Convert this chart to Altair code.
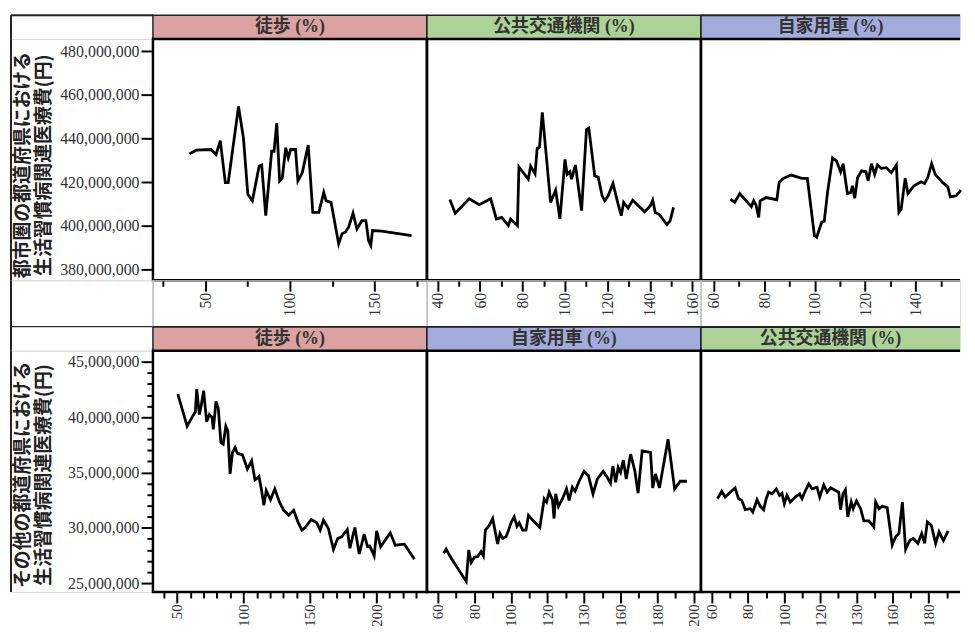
import altair as alt
import pandas as pd

# ---------------- data (x: share %, y: cost in million yen) ----------------
walk_m_x = [40.6, 44.5, 53.3, 56.3, 58.8, 61.8, 63.5, 69.6, 72.5, 75.1, 77.8, 81.8, 83.3, 85.7, 89.2,
            90.6, 92.2, 93.9, 95.5, 97.5, 99.0, 100.4, 103.3, 104.7, 107.3, 110.8, 113.5, 117.1, 120.0,
            121.4, 124.3, 128.8, 130.8, 132.7, 134.7, 137.3, 139.6, 142.5, 144.9, 146.5, 147.8, 148.8,
            154.3, 171.9]
walk_m_y = [433.0, 434.7, 435.0, 432.7, 439.1, 419.8, 419.8, 454.7, 440.3, 414.5, 411.5, 427.4, 427.9,
            404.7, 434.2, 434.2, 447.1, 420.6, 422.1, 435.8, 431.2, 435.0, 435.0, 420.6, 424.4, 437.0,
            406.2, 406.2, 415.3, 411.5, 410.8, 391.8, 396.4, 397.1, 399.4, 405.8, 398.6, 402.4, 402.4,
            393.3, 391.1, 397.9, 397.6, 395.6]

transit_m_x = [45.8, 48.3, 54.9, 59.6, 65.0, 67.7, 70.2, 73.3, 74.4, 77.6, 78.3, 82.7, 83.8, 85.9, 86.9,
               88.0, 89.3, 93.2, 95.6, 97.6, 100.0, 101.0, 102.3, 103.1, 104.9, 107.8, 110.1, 111.2,
               114.0, 115.6, 117.5, 118.7, 120.3, 122.6, 125.0, 126.5, 127.6, 129.7, 131.9, 137.5,
               140.2, 141.3, 142.5, 144.4, 148.0, 149.5, 151.1]
transit_m_y = [412.1, 405.8, 412.4, 409.7, 412.4, 403.2, 403.9, 400.2, 403.2, 400.2, 427.0, 421.4, 427.4,
               423.9, 435.5, 436.1, 452.0, 410.8, 416.4, 403.2, 430.5, 423.6, 424.8, 421.4, 427.9, 407.0,
               444.1, 444.8, 422.9, 422.4, 413.8, 411.5, 413.8, 419.4, 410.0, 404.7, 410.8, 408.2, 411.8,
               406.5, 409.2, 411.8, 406.1, 405.2, 400.6, 402.4, 408.5]

car_m_x = [66.6, 68.3, 70.3, 74.9, 75.8, 76.7, 77.8, 78.4, 80.7, 85.0, 85.9, 87.6, 90.7, 94.9, 97.1,
           99.9, 100.8, 102.8, 103.8, 105.1, 107.1, 108.7, 110.3, 111.3, 113.0, 114.3, 115.0, 115.9,
           117.0, 118.6, 120.3, 121.2, 122.5, 123.8, 124.9, 126.4, 128.4, 130.4, 132.4, 133.4, 134.3,
           135.9, 137.0, 139.3, 142.2, 143.6, 144.9, 146.4, 147.8, 150.8, 152.8, 153.8, 156.1, 158.0]
car_m_y = [412.3, 410.8, 414.8, 408.8, 411.5, 409.7, 403.9, 411.5, 413.0, 412.0, 419.8, 421.8, 423.3,
           421.8, 421.8, 395.6, 394.8, 401.7, 402.1, 415.3, 431.2, 429.7, 424.7, 428.5, 414.8, 415.3,
           418.4, 412.7, 422.1, 425.2, 424.8, 420.6, 428.5, 423.6, 427.9, 426.4, 426.7, 424.4, 427.9,
           406.2, 407.7, 421.8, 414.8, 418.3, 420.2, 419.4, 422.4, 428.5, 423.6, 419.8, 417.9, 413.3,
           413.8, 416.4]

walk_o_x = [50.7, 57.7, 61.9, 63.9, 64.9, 66.9, 68.2, 70.1, 72.4, 74.4, 76.4, 77.4, 79.4, 81.1, 83.1,
            84.8, 86.8, 88.3, 90.0, 91.8, 93.8, 95.5, 99.3, 103.0, 106.2, 108.7, 111.7, 113.7, 115.4,
            117.2, 120.4, 123.6, 127.1, 130.3, 134.1, 137.8, 141.0, 144.0, 146.5, 151.0, 155.2, 157.7,
            160.2, 163.9, 167.7, 170.9, 173.9, 178.1, 180.1, 181.8, 183.8, 187.1, 190.8, 193.3, 195.0,
            198.3, 200.2, 203.2, 206.7, 210.4, 214.2, 221.1, 228.6]
walk_o_y = [42.09, 39.19, 40.09, 40.48, 42.54, 40.24, 40.99, 42.39, 39.58, 40.24, 40.00, 38.90, 41.43,
            40.83, 37.70, 37.55, 39.19, 38.75, 34.87, 36.81, 37.25, 36.72, 36.60, 35.31, 36.06, 34.33,
            34.63, 33.37, 32.03, 33.37, 32.54, 33.52, 32.33, 31.58, 31.13, 31.58, 30.54, 29.79, 30.03,
            30.75, 30.45, 29.79, 30.69, 29.94, 28.06, 29.04, 29.19, 29.85, 28.15, 29.04, 30.03, 27.64,
            29.43, 28.30, 28.36, 27.46, 29.73, 28.30, 28.90, 29.55, 28.43, 28.52, 27.16]

car_o_x = [63.1, 64.5, 67.3, 75.5, 76.9, 78.2, 80.0, 81.8, 83.6, 84.9, 86.0, 88.2, 90.0, 92.7, 94.0,
           95.5, 97.3, 98.7, 100.0, 101.8, 103.3, 104.5, 106.4, 108.2, 109.6, 112.7, 115.8, 118.2,
           119.5, 120.9, 122.7, 123.6, 124.5, 126.0, 128.2, 130.4, 131.8, 133.6, 135.1, 137.3, 140.0,
           142.4, 144.9, 147.3, 150.5, 152.7, 154.5, 155.8, 157.3, 158.7, 160.0, 161.5, 163.1, 165.5,
           167.8, 169.6, 171.8, 176.4, 177.6, 179.1, 181.3, 186.0, 189.6, 192.7, 196.4]
car_o_y = [27.70, 28.06, 27.25, 25.16, 28.00, 26.87, 27.34, 27.40, 27.85, 27.46, 29.79, 30.24, 30.84,
           28.54, 29.49, 29.04, 29.19, 29.79, 30.45, 30.99, 30.15, 30.45, 29.79, 29.79, 31.13, 30.54,
           30.03, 32.63, 32.33, 33.22, 32.54, 30.84, 33.07, 31.94, 32.63, 33.52, 32.48, 33.67, 33.31,
           34.21, 35.10, 34.72, 33.07, 34.43, 35.10, 34.57, 34.03, 35.60, 34.12, 35.46, 35.01, 36.12,
           34.42, 36.66, 35.16, 33.13, 36.96, 36.81, 33.61, 34.87, 33.61, 38.00, 33.52, 34.21, 34.21]

transit_o_x = [63.1, 65.5, 67.4, 70.2, 72.9, 74.8, 76.6, 78.5, 81.3, 82.7, 85.0, 86.8, 88.7, 90.1, 91.4,
               93.3, 95.7, 97.5, 98.8, 100.1, 101.6, 103.4, 106.2, 108.6, 109.9, 111.8, 113.6, 115.5,
               118.2, 119.7, 121.9, 123.8, 125.7, 130.2, 131.2, 132.6, 133.9, 135.2, 137.1, 138.2,
               140.0, 142.3, 144.1, 146.9, 149.6, 150.6, 152.4, 154.3, 157.0, 159.8, 161.7, 163.5,
               165.4, 167.2, 169.6, 171.5, 174.0, 176.1, 177.7, 179.2, 181.4, 183.8, 185.7, 188.1, 190.7]
transit_o_y = [32.63, 33.31, 32.78, 33.22, 33.61, 32.63, 32.48, 31.64, 31.73, 31.43, 32.54, 31.94, 31.64,
               32.63, 33.22, 33.07, 33.52, 32.93, 33.13, 32.18, 32.93, 32.33, 32.78, 33.07, 32.63, 33.37,
               33.97, 33.52, 33.67, 32.78, 33.88, 33.22, 33.61, 33.22, 31.64, 33.07, 33.43, 30.99, 32.33,
               31.73, 32.42, 31.73, 30.63, 30.63, 30.09, 32.33, 31.73, 31.94, 31.82, 28.45, 29.19, 29.49,
               32.33, 28.06, 28.90, 29.04, 28.60, 29.49, 28.60, 30.54, 30.24, 28.60, 29.64, 28.84, 29.73]

# header labels / colors
LBL_WALK, LBL_TRANSIT, LBL_CAR = "徒歩 (%)", "公共交通機関 (%)", "自家用車 (%)"
C_WALK, C_TRANSIT, C_CAR = "#dca2a2", "#acd298", "#a3abdc"
ytitle_top = ["都市圏の都道府県における", "生活習慣病関連医療費(円)"]
ytitle_bot = ["その他の都道府県における", "生活習慣病関連医療費(円)"]

# ---------------- layout constants ----------------
W0, W, W3 = 143, 276, 261
HH, H1, HS, H2 = 24, 243, 47, 243
SERIF = "Liberation Serif"
HFONT = "Liberation Serif, Noto Sans CJK JP"
TFONT = "Noto Sans CJK JP"
one = pd.DataFrame({"a": [0]})


def rule_left(color="black", sw=2.5):
    return alt.Chart(one).mark_rule(color=color, strokeWidth=sw).encode(
        x=alt.value(0), y=alt.value(0), y2=alt.value("height"))


def rule_top(color="black", sw=2.5):
    return alt.Chart(one).mark_rule(color=color, strokeWidth=sw).encode(
        x=alt.value(0), x2=alt.value("width"), y=alt.value(0))


def rule_bottom(color="black", sw=2.5):
    return alt.Chart(one).mark_rule(color=color, strokeWidth=sw).encode(
        x=alt.value(0), x2=alt.value("width"), y=alt.value("height"))


def xaxis(vals, major, relabel=False, fs=16):
    expr = f"datum.value % {major} === 0 ? datum.label : ''"
    if relabel:
        expr = f"datum.value === 140 ? '130' : ({expr})"
    return alt.Axis(values=vals, labelExpr=expr, labelAngle=270, labelFont=SERIF,
                    labelFontSize=fs, labelColor="#333", labelPadding=1, labelOverlap=False,
                    labelFlush=False, domain=False, grid=False, tickColor="black", tickWidth=2,
                    tickSize={"condition": {"test": f"datum.value % {major} === 0", "value": 11},
                              "value": 6},
                    title=None)


def yaxis(vals, major, title, ty):
    return alt.Axis(values=vals, format=",d",
                    labelExpr=f"datum.value % {major} === 0 ? datum.label : ''",
                    labelFont=SERIF, labelFontSize=16, labelColor="#333", labelPadding=2,
                    labelOverlap=False, labelFlush=False, domain=False, grid=False,
                    tickColor="black", tickWidth=2,
                    tickSize={"condition": {"test": f"datum.value % {major} === 0", "value": 12},
                              "value": 6},
                    minExtent=96, maxExtent=96, title=title, titleFont=TFONT, titleFontSize=19,
                    titleFontWeight="bold", titleColor="#222", titlePadding=4, titleLineHeight=21,
                    titleY=ty)


def panel(xs, ys, xdom, xax, ydom, w, h, yax=None, open_right=False):
    df = pd.DataFrame({"x": xs, "y": [v * 1e6 for v in ys]})
    yenc = alt.Y("y:Q", scale=alt.Scale(domain=ydom, zero=False, nice=False),
                 axis=yax if yax is not None else None)
    line = alt.Chart(df).mark_line(color="black", strokeWidth=2.8).encode(
        x=alt.X("x:Q", scale=alt.Scale(domain=xdom, zero=False, nice=False), axis=xax),
        y=yenc,
    )
    if open_right:
        return alt.layer(line, rule_left(), rule_top(), rule_bottom()).properties(
            width=w, height=h, view=alt.ViewBackground(stroke="transparent"))
    return line.properties(width=w, height=h,
                           view=alt.ViewBackground(stroke="black", strokeWidth=2.5))


def header(label, color, w, open_right=False):
    txt = alt.Chart(pd.DataFrame({"t": [label]})).mark_text(
        font=HFONT, fontSize=18, fontWeight="bold", color="#333", baseline="middle"
    ).encode(text="t:N")
    if open_right:
        return alt.layer(txt, rule_left("#222", 1.5), rule_top("#222", 2)).properties(
            width=w, height=HH, view=alt.ViewBackground(fill=color, stroke="transparent"))
    return txt.properties(
        width=w, height=HH, view=alt.ViewBackground(fill=color, stroke="#222", strokeWidth=1.5))


def lines(w, h, left=False, top=False, bottom=False, grey_left=False):
    ls = []
    if left:
        ls.append(rule_left("#222", 2))
    if grey_left:
        ls.append(rule_left("#aaa", 1))
    if top:
        ls.append(rule_top("#222", 2))
    if bottom:
        ls.append(rule_bottom("#222", 2))
    return alt.layer(*ls).properties(width=w, height=h)


ydom_top = [375.1e6, 485.6e6]
ydom_bot = [24.2e6, 46.0e6]
yv_top = list(range(380_000_000, 480_000_001, 20_000_000))
yv_bot = list(range(25_000_000, 45_000_001, 1_000_000))

cells = [
    # row 1: headers
    lines(W0, HH, left=True, top=True),
    header(LBL_WALK, C_WALK, W), header(LBL_TRANSIT, C_TRANSIT, W),
    header(LBL_CAR, C_CAR, W3, open_right=True),
    # row 2: metro panels
    lines(W0, H1, left=True),
    panel(walk_m_x, walk_m_y, [19, 181], xaxis(list(range(25, 176, 25)), 50), ydom_top, W, H1,
          yax=yaxis(yv_top, 20000000, ytitle_top, H1 / 2 + 5)),
    panel(transit_m_x, transit_m_y, [35, 164], xaxis(list(range(40, 161, 10)), 20), ydom_top, W, H1),
    panel(car_m_x, car_m_y, [54.9, 157.66], xaxis(list(range(60, 151, 10)), 20),
          ydom_top, W3, H1, open_right=True),
    # row 3: spacer (x axis area)
    lines(W0, HS, left=True, bottom=True),
    lines(W, HS, grey_left=True, bottom=True),
    lines(W, HS, grey_left=True, bottom=True),
    lines(W3, HS, grey_left=True, bottom=True),
    # row 4: headers
    lines(W0, HH, left=True),
    header(LBL_WALK, C_WALK, W), header("自家用車  (%)", C_CAR, W),
    header(LBL_TRANSIT, C_TRANSIT, W3, open_right=True),
    # row 5: other prefectures panels
    lines(W0, H2, left=True),
    panel(walk_o_x, walk_o_y, [32, 238], xaxis(list(range(40, 231, 10)), 50, fs=15), ydom_bot, W, H2,
          yax=yaxis(yv_bot, 5000000, ytitle_bot, H2 / 2 + 3)),
    panel(car_o_x, car_o_y, [54, 204], xaxis(list(range(60, 201, 10)), 20, relabel=True, fs=15),
          ydom_bot, W, H2),
    panel(transit_o_x, transit_o_y, [54, 197.3],
          xaxis(list(range(60, 191, 10)), 20, relabel=True, fs=15), ydom_bot, W3, H2,
          open_right=True),
]

chart = alt.ConcatChart(
    concat=cells, columns=4, spacing=0, bounds="flush",
    padding={"left": 1, "top": 3, "right": 0, "bottom": 0},
).configure_view(stroke="transparent").configure(background="white")

chart.save("out.html", embed_options={"renderer": "svg", "actions": False})
